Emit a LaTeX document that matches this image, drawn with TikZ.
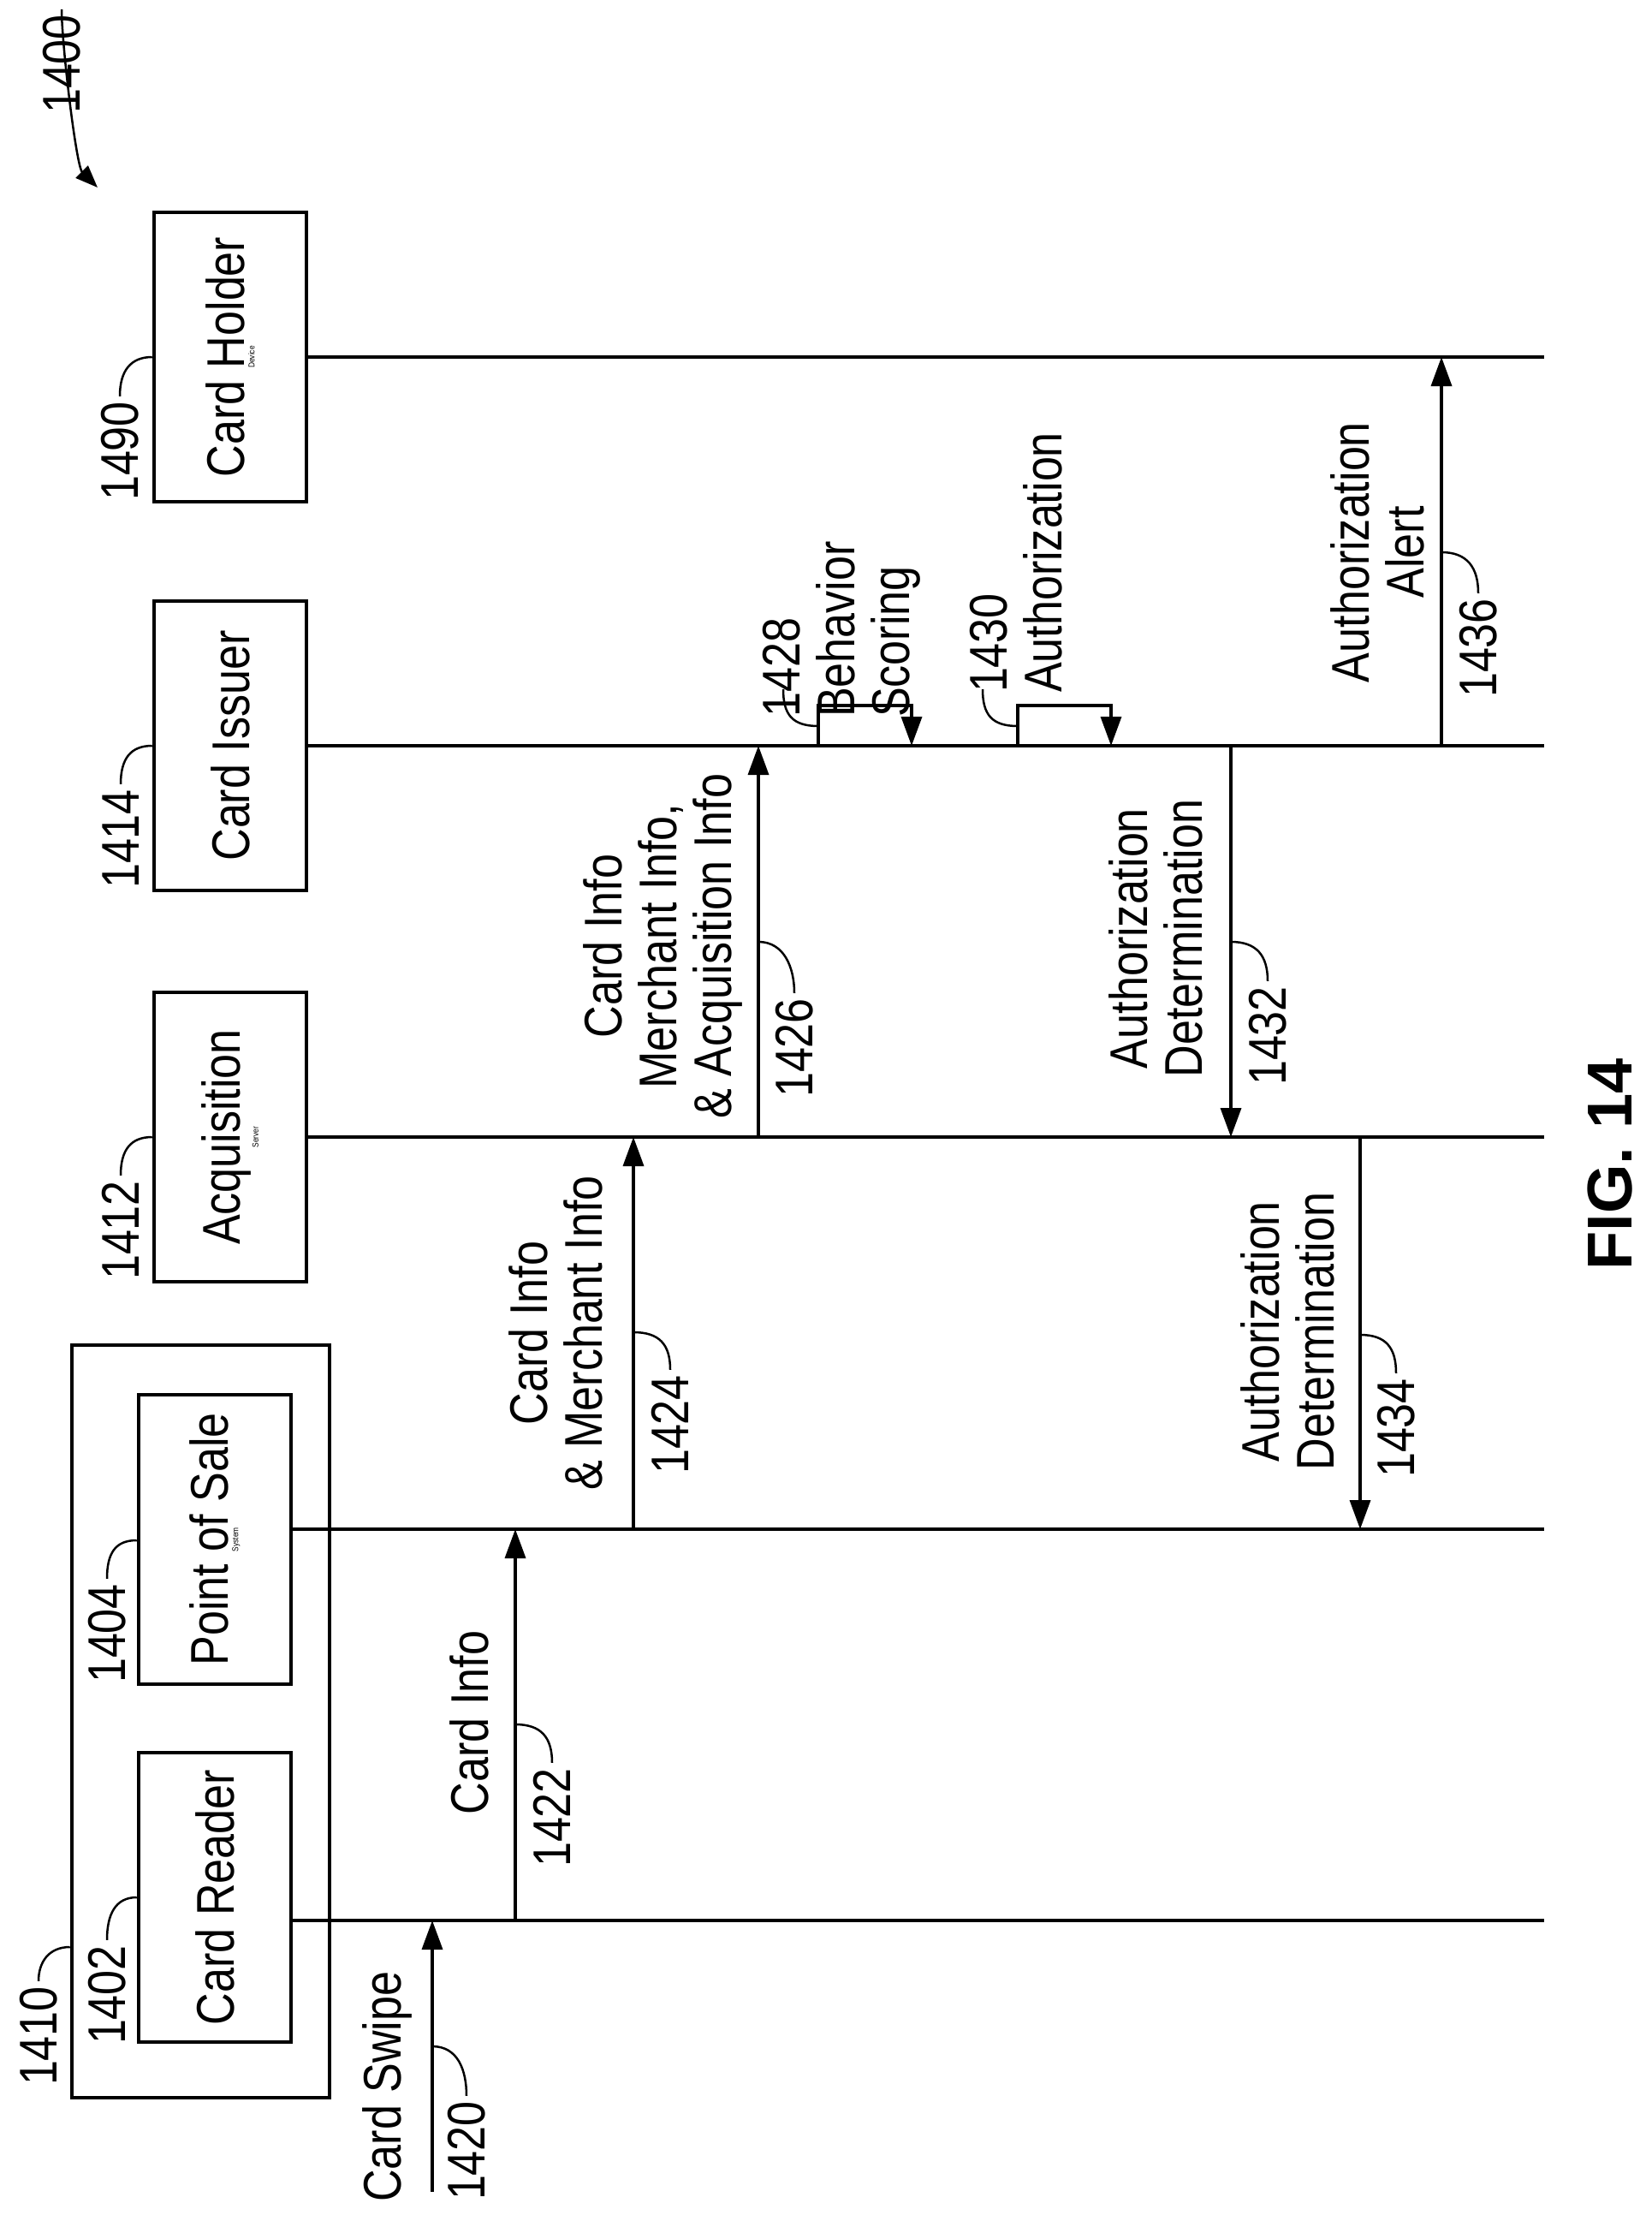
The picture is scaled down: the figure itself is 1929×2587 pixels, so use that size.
\documentclass[tikz,border=0pt]{standalone}
\usepackage{fontspec}
\setmainfont{Liberation Sans}[FakeStretch=0.84]
\newfontfamily\figfont{Liberation Sans}
\usetikzlibrary{arrows.meta,calc,positioning}
\tikzset{
  >={Triangle[length=34pt,width=24pt]}
}

\begin{document}
\begin{tikzpicture}[x=1pt,y=-1pt,
        ent/.style={rectangle,draw,line width=4.5pt,rotate=90,align=center,
          minimum width=338pt,minimum height=178pt,inner sep=0pt},
        txt/.style={rotate=90,align=center,inner sep=4pt,font=\fontsize{62}{64}\selectfont},
        num/.style={rotate=90,inner sep=6pt,font=\fontsize{62}{64}\selectfont},
        life/.style={line width=3.5pt},
        msg/.style={line width=3.5pt,->},
        lead/.style={line width=2.5pt}
      ]
      \useasboundingbox (0,0) rectangle (1929,2587);
      % participants
      \node (CHD) at (269,417) [ent] {\fontsize{62}{64}\selectfont Card Holder\\Device};
      \node (CI) at (269,871) [ent] {\fontsize{62}{64}\selectfont Card Issuer};
      \node (ACQ) at (269,1328) [ent] {\fontsize{62}{64}\selectfont Acquisition\\Server};
      \node (SYS) at (234.5,2010.5) [ent,minimum width=879pt,minimum height=301pt] {};
      \node (POS) at (251,1798) [ent] {\fontsize{62}{64}\selectfont Point of Sale\\System};
      \node (CR) at (251,2216) [ent] {\fontsize{62}{64}\selectfont Card Reader};
      % lifelines
      \coordinate (CHDe) at (1804,417);
      \coordinate (CIe) at (1804,871);
      \coordinate (ACQe) at (1804,1328);
      \coordinate (POSe) at (1804,1786);
      \coordinate (CRe) at (1804,2243);
      \draw[life] (CHD.south) -- (CHDe);
      \draw[life] (CI.south) -- (CIe);
      \draw[life] (ACQ.south) -- (ACQe);
      \draw[life] (POS.south |- POSe) -- (POSe);
      \draw[life] (CR.south |- CRe) -- (CRe);
      % reference numerals of participants
      \node (N1400) at (72,75) [num] {1400};
      \node (N1490) at (140,527) [num] {1490};
      \node (N1414) at (141,980) [num] {1414};
      \node (N1412) at (141,1437) [num] {1412};
      \node (N1404) at (125,1908) [num] {1404};
      \node (N1402) at (125,2330) [num] {1402};
      \node (N1410) at (45,2378) [num] {1410};
      \draw[lead,->,>={Triangle[length=26pt,width=20pt]}] (N1400.east) .. controls +(0,40) and +(-25,-25) .. (114,219);
      \draw[lead] (N1490.east) .. controls +(0,-30) and +(-25,0) .. (CHD.north |- CHDe);
      \draw[lead] (N1414.east) .. controls +(0,-30) and +(-25,0) .. (CI.north |- CIe);
      \draw[lead] (N1412.east) .. controls +(0,-30) and +(-25,0) .. (ACQ.north |- ACQe);
      \draw[lead] (N1404.east) .. controls +(0,-30) and +(-25,0) .. (POS.north |- 0,1799);
      \draw[lead] (N1402.east) .. controls +(0,-30) and +(-25,0) .. (CR.north |- 0,2216);
      \draw[lead] (N1410.east) .. controls +(0,-22) and +(-25,0) .. (SYS.north |- 0,2274);
      % messages
      \coordinate (S1420) at (505,2560);
      \draw[msg] (S1420) -- (505,0 |- CRe);
      \draw[msg] (602,0 |- CRe) -- (602,0 |- POSe);
      \draw[msg] (740,0 |- POSe) -- (740,0 |- ACQe);
      \draw[msg] (886,0 |- ACQe) -- (886,0 |- CIe);
      \draw[msg] (956,0 |- CIe) |- (1065,824) -- (1065,0 |- CIe);
      \draw[msg] (1189,0 |- CIe) |- (1298,824) -- (1298,0 |- CIe);
      \draw[msg] (1438,0 |- CIe) -- (1438,0 |- ACQe);
      \draw[msg] (1589,0 |- ACQe) -- (1589,0 |- POSe);
      \draw[msg] (1684,0 |- CIe) -- (1684,0 |- CHDe);
      \node (T1420) at (452,2437) [txt] {Card Swipe};
      \node (T1422) at (548,2012) [txt] {Card Info};
      \node (T1424) at (649,1557) [txt] {Card Info\\\& Merchant Info};
      \node (T1426) at (774,1105) [txt] {Card Info\\Merchant Info,\\\& Acquisition Info};
      \node (T1428) at (983,735) [txt,align=left] {1428\\Behavior\\Scoring};
      \node (T1430) at (1187,657) [txt,align=left] {1430\\Authorization};
      \node (T1432) at (1350,1096) [txt] {Authorization\\Determination};
      \node (T1434) at (1504,1555) [txt] {Authorization\\Determination};
      \node (T1436) at (1609,645) [txt] {Authorization\\Alert};
      \node (N1420) at (545,2512) [num] {1420};
      \node (N1422) at (645,2123) [num] {1422};
      \node (N1424) at (783,1664) [num] {1424};
      \node (N1426) at (928,1224) [num] {1426};
      \node (N1432) at (1481,1210) [num] {1432};
      \node (N1434) at (1631,1668) [num] {1434};
      \node (N1436) at (1727,757) [num] {1436};
      \draw[lead] (N1420.east) .. controls +(0,-30) and +(30,0) .. (505,2390);
      \draw[lead] (N1422.east) .. controls +(0,-30) and +(30,0) .. (602,2014);
      \draw[lead] (N1424.east) .. controls +(0,-30) and +(30,0) .. (740,1556);
      \draw[lead] (N1426.east) .. controls +(0,-30) and +(30,0) .. (886,1100);
      \draw[lead] (N1432.east) .. controls +(0,-30) and +(30,0) .. (1438,1100);
      \draw[lead] (N1434.east) .. controls +(0,-30) and +(30,0) .. (1589,1559);
      \draw[lead] (N1436.east) .. controls +(0,-30) and +(30,0) .. (1684,645);
      \draw[lead] (915,805) .. controls +(0,30) and +(-30,0) .. (956,848);
      \draw[lead] (1148,805) .. controls +(0,30) and +(-30,0) .. (1189,848);
      \node (FIG) at (1881,1360) [rotate=90,font=\figfont\bfseries\fontsize{74}{80}\selectfont] {FIG. 14};
    \end{tikzpicture}
\end{document}
